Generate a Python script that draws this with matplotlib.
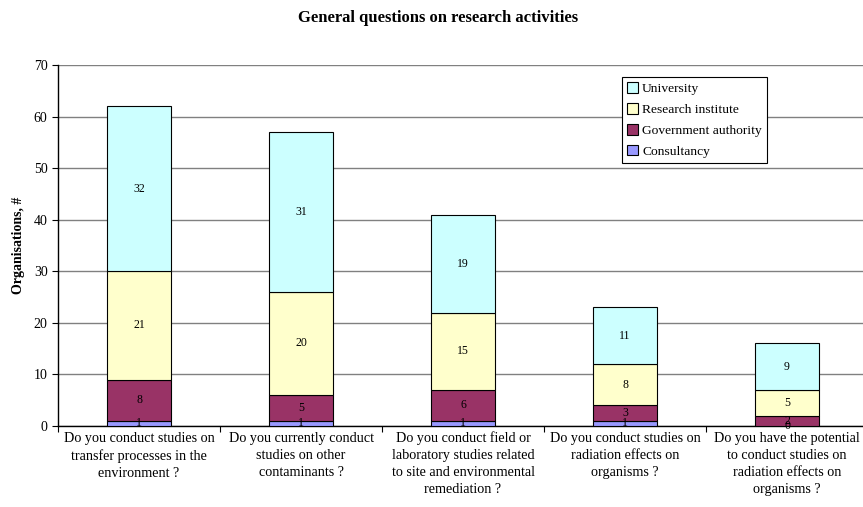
import matplotlib
matplotlib.use("Agg")
import matplotlib.pyplot as plt
import numpy as np

plt.rcParams['font.family'] = ['Liberation Serif', 'DejaVu Serif']

categories = [
    "Do you conduct studies on\ntransfer processes in the\nenvironment ?",
    "Do you currently conduct\nstudies on other\ncontaminants ?",
    "Do you conduct field or\nlaboratory studies related\nto site and environmental\nremediation ?",
    "Do you conduct studies on\nradiation effects on\norganisms ?",
    "Do you have the potential\nto conduct studies on\nradiation effects on\norganisms ?",
]
consultancy = [1, 1, 1, 1, 0]
government = [8, 5, 6, 3, 2]
research = [21, 20, 15, 8, 5]
university = [32, 31, 19, 11, 9]

series = [
    ("Consultancy", consultancy, "#9999FF"),
    ("Government authority", government, "#993366"),
    ("Research institute", research, "#FFFFCC"),
    ("University", university, "#CCFFFF"),
]

fig = plt.figure(figsize=(8.63, 5.07), dpi=100)
ax = fig.add_axes([58/863, 1-426/507, (868-58)/863, (426-65)/507])

x = np.arange(len(categories))
bottom = np.zeros(len(categories))
handles = []
for name, vals, col in series:
    vals = np.array(vals, dtype=float)
    b = ax.bar(x, vals, 0.395, bottom=bottom, color=col, edgecolor='black', linewidth=0.8, zorder=3, label=name)
    handles.append(b)
    for xi, v, bt in zip(x, vals, bottom):
        ax.text(xi, bt + v/2, f"{int(v)}", ha='center', va='center', fontsize=8.5, zorder=4)
    bottom += vals

ax.set_xlim(-0.5, 4.5)
ax.set_ylim(0, 70)
ax.set_yticks(range(0, 71, 10))
ax.tick_params(axis='y', labelsize=10, length=4, direction='out')
ax.set_xticks(np.arange(-0.5, 4.6, 1), minor=False)
ax.set_xticklabels([])
ax.set_xticks(x, minor=True)
ax.set_xticklabels(categories, minor=True, fontsize=10.2, va='top', linespacing=1.4)
ax.tick_params(axis='x', which='minor', length=0, pad=4)
ax.tick_params(axis='x', which='major', length=4, direction='out')
ax.yaxis.grid(True, color='#808080', linewidth=1.0, zorder=0)
for s in ['top', 'right']:
    ax.spines[s].set_visible(False)
ax.spines['left'].set_linewidth(1.0)
ax.spines['bottom'].set_linewidth(1.0)
ax.set_ylabel("Organisations, #", fontsize=10, fontweight='bold', labelpad=6)

fig.text(438/863, 1-18/507, "General questions on research activities", ha='center', va='center',
         fontsize=12, fontweight='bold')

leg = ax.legend(handles=handles[::-1], loc='upper left', bbox_to_anchor=((622-58)/810, (426-77)/361),
                fontsize=9.7, frameon=True, fancybox=False, edgecolor='black', framealpha=1,
                handlelength=0.8, handleheight=0.8, handletextpad=0.3, borderpad=0.4,
                labelspacing=0.6, borderaxespad=0)
leg.get_frame().set_linewidth(0.8)
leg.set_zorder(5)

fig.savefig("out.png", dpi=100)
